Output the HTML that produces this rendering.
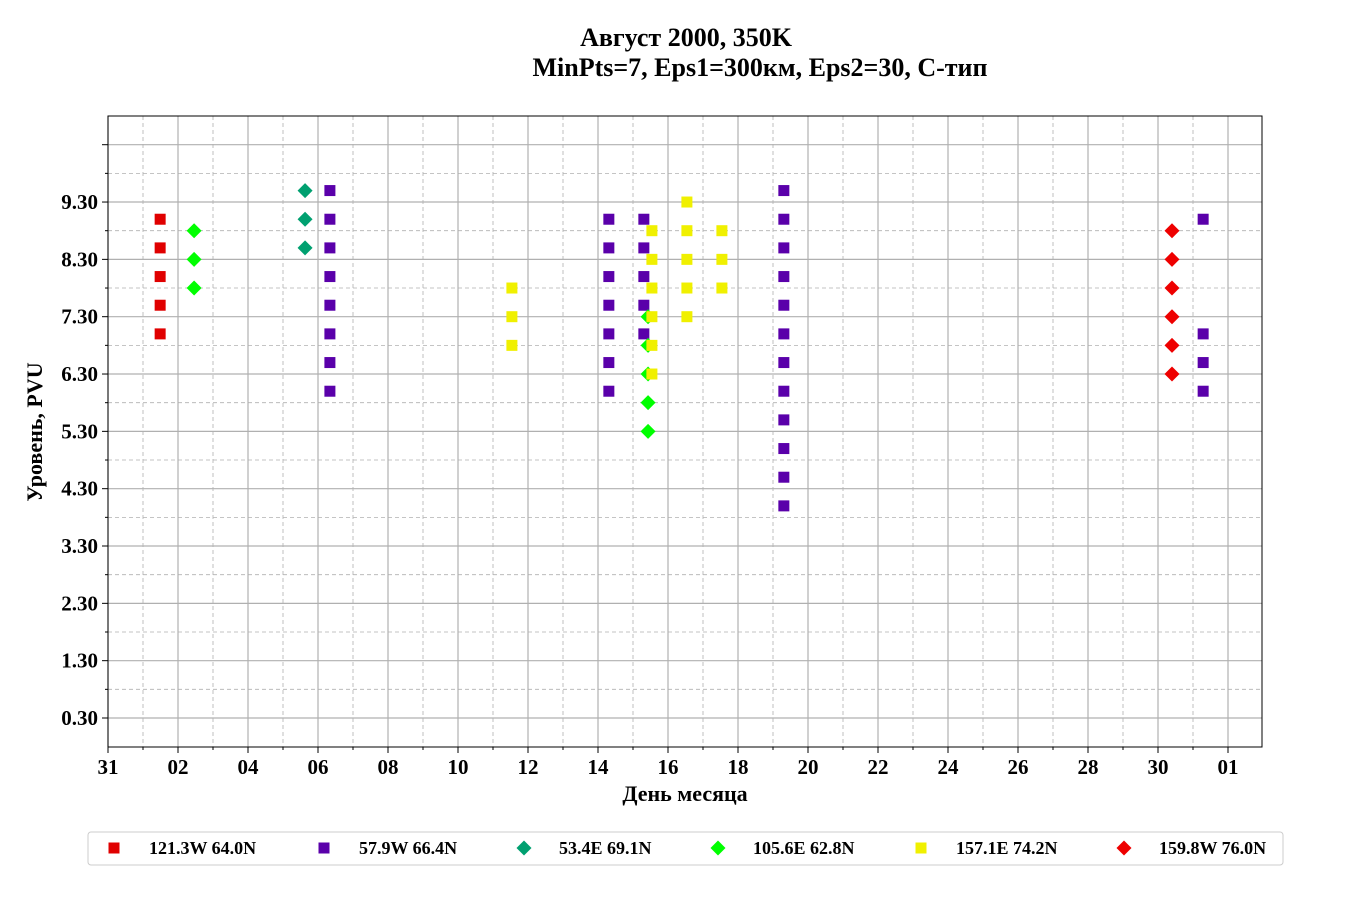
<!DOCTYPE html>
<html><head><meta charset="utf-8"><style>
body{margin:0;background:#fff;width:1360px;height:900px;overflow:hidden;font-family:"Liberation Serif",serif}
svg text{font-family:"Liberation Serif",serif;font-weight:bold}
</style></head><body>
<svg id="chart" width="1360" height="900">
<text x="686" y="46" text-anchor="middle" font-size="26">Август 2000, 350K</text>
<text x="760" y="76" text-anchor="middle" font-size="26">MinPts=7, Eps1=300км, Eps2=30, C-тип</text>
<g id="grid"></g><g id="marks"></g><g id="axes"></g>
<text x="685" y="801" text-anchor="middle" font-size="22">День месяца</text>
<text transform="translate(42,432) rotate(-90)" text-anchor="middle" font-size="22">Уровень, PVU</text>
<rect x="88" y="832" width="1195" height="33" rx="3" fill="#fff" stroke="#ccc"/>
<g id="legend"></g>
</svg>
<script>
const seriesNames=["121.3W 64.0N","57.9W 66.4N","53.4E 69.1N","105.6E 62.8N","157.1E 74.2N","159.8W 76.0N"];
const seriesColors=["#e00000","#5a00aa","#00a070","#00ff00","#f0f000","#ee0000"];
const seriesShapes=["s","s","d","d","s","d"];
// each group: [seriesIndex, day offset from Jul 31, values]
const groups=[
[0,1.49,[9.0,8.5,8.0,7.5,7.0]],
[3,2.46,[8.8,8.3,7.8]],
[2,5.63,[9.5,9.0,8.5]],
[1,6.34,[9.5,9.0,8.5,8.0,7.5,7.0,6.5,6.0]],
[4,11.54,[7.8,7.3,6.8]],
[1,14.31,[9.0,8.5,8.0,7.5,7.0,6.5,6.0]],
[1,15.31,[9.0,8.5,8.0,7.5,7.0]],
[3,15.43,[7.3,6.8,6.3,5.8,5.3]],
[4,15.54,[8.8,8.3,7.8,7.3,6.8,6.3]],
[4,16.54,[9.3,8.8,8.3,7.8,7.3]],
[4,17.54,[8.8,8.3,7.8]],
[1,19.31,[9.5,9.0,8.5,8.0,7.5,7.0,6.5,6.0,5.5,5.0,4.5,4.0]],
[5,30.4,[8.8,8.3,7.8,7.3,6.8,6.3]],
[1,31.29,[9.0,7.0,6.5,6.0]]
];
const xTickLabels=["31","02","04","06","08","10","12","14","16","18","20","22","24","26","28","30","01"];
const yTickLabels=["0.30","1.30","2.30","3.30","4.30","5.30","6.30","7.30","8.30","9.30"];
const L=108,R=1262,T=116,B=747;
const X=d=>L+35*d;
const Y=v=>718-(v-0.3)*57.33;
const NS="http://www.w3.org/2000/svg";
function mk(t,a,p){const e=document.createElementNS(NS,t);for(const k in a)e.setAttribute(k,a[k]);p.appendChild(e);return e;}
const grid=document.getElementById('grid'),axes=document.getElementById('axes'),marks=document.getElementById('marks'),leg=document.getElementById('legend');
for(let d=0;d<=32;d++){const x=X(d);const major=d%2===0;
 const g=mk('line',{x1:x,x2:x,y1:T,y2:B,stroke:'#b0b0b0','stroke-width':major?1.2:0.8,'stroke-dasharray':major?'':'4,3'},grid);
 
 mk('line',{x1:x,x2:x,y1:B,y2:B+(major?6:3),stroke:'#000'},axes);}
xTickLabels.forEach((s,i)=>{const t=mk('text',{x:X(i*2),y:774,'text-anchor':'middle','font-size':21},axes);t.textContent=s;
 });
for(let k=0;k<21;k++){const v=0.3+k*0.5;const y=Y(v);if(y<T)break;const major=k%2===0;
 const g=mk('line',{x1:L,x2:R,y1:y,y2:y,stroke:'#b0b0b0','stroke-width':major?1.2:0.8,'stroke-dasharray':major?'':'4,3'},grid);
 
 mk('line',{x1:L-(major?6:3),x2:L,y1:y,y2:y,stroke:'#000'},axes);}
yTickLabels.forEach(s=>{const t=mk('text',{x:98,y:Y(parseFloat(s))+7,'text-anchor':'end','font-size':21},axes);t.textContent=s;
 });
mk('rect',{x:L,y:T,width:R-L,height:B-T,fill:'none',stroke:'#000'},axes);
function marker(shape,cx,cy,col,p){
 if(shape==='s')return mk('rect',{x:cx-5.5,y:cy-5.5,width:11,height:11,fill:col},p);
 return mk('polygon',{points:`${cx},${cy-7.5} ${cx+7.5},${cy} ${cx},${cy+7.5} ${cx-7.5},${cy}`,fill:col},p);}
groups.forEach(g=>{const [si,d,vals]=g;vals.forEach(v=>{
 const m=marker(seriesShapes[si],X(d),Y(v),seriesColors[si],marks);
 });});
const legX=[114,324,524,718,921,1124];
seriesNames.forEach((n,i)=>{const m=marker(seriesShapes[i],legX[i],848,seriesColors[i],leg);
 
 const t=mk('text',{x:legX[i]+35,y:854,'font-size':18},leg);t.textContent=n;
 });
</script>
</body></html>
